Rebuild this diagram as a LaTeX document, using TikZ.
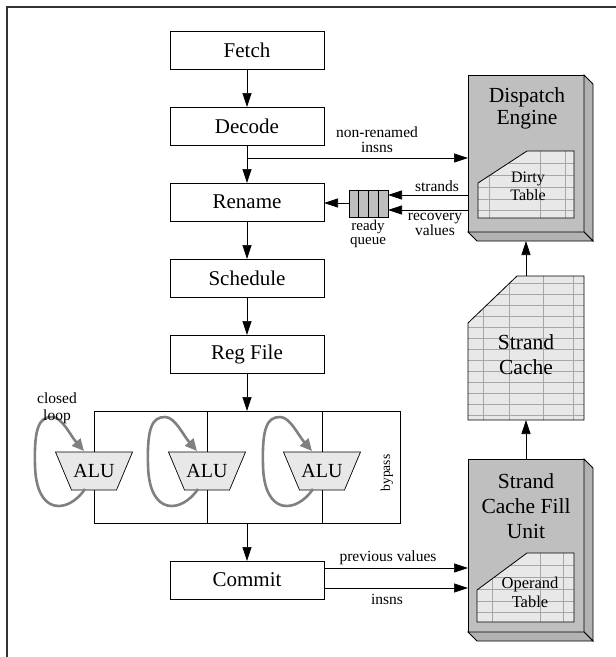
\documentclass[tikz,border=0pt]{standalone}
\usepackage{fontspec}
\setmainfont{Liberation Serif}
\usetikzlibrary{arrows.meta,calc}
\begin{document}
\begin{tikzpicture}[x=1pt,y=-1pt,
  stage/.style={draw,line width=0.8pt,minimum width=154pt,minimum height=38pt,inner sep=0pt,outer sep=0pt,font=\fontsize{21}{24}\selectfont},
  arr/.style={line width=0.7pt,-{Triangle[length=14pt,width=9pt]}},
  lbl/.style={font=\fontsize{15.5}{13}\selectfont,align=center,inner sep=0pt},
  ttl/.style={font=\fontsize{21.5}{25}\selectfont,align=center,inner sep=0pt},
  face/.style={draw,line width=0.8pt,fill=black!25,inner sep=0pt,outer sep=0pt},
  sideface/.style={draw,line width=0.8pt,fill=black!30},
  tbl/.style={draw,line width=0.8pt,fill=black!9},
  gridln/.style={draw=black!35,line width=0.8pt},
  loopline/.style={draw=black!50,line width=2.6pt,-{Triangle[length=12pt,width=11pt,fill=black!50]}},
  alushape/.style={draw,line width=0.7pt,fill=black!9},
]
\useasboundingbox (0,0) rectangle (616,657);
\draw[line width=1.3pt,black!80] (7,657) -- (7,7) -- (616,7);

% pipeline stages
\node[stage] (fetch) at (247,50) {Fetch};
\node[stage] (decode) at (247,126) {Decode};
\node[stage] (rename) at (247,202) {Rename};
\node[stage] (schedule) at (247,278) {Schedule};
\node[stage] (regfile) at (247,354) {Reg File};
\node[stage] (commit) at (247,580) {Commit};
\node[draw,line width=0.8pt,minimum width=306pt,minimum height=112pt,inner sep=0pt,outer sep=0pt] (exec) at (247,467) {};
\draw[line width=0.8pt] (207,411) -- (207,523);
\draw[line width=0.8pt] (322,411) -- (322,523);

\draw[arr] (fetch) -- (decode);
\draw[arr] (decode) -- (rename);
\draw[arr] (rename) -- (schedule);
\draw[arr] (schedule) -- (regfile);
\draw[arr] (regfile) -- (exec);
\draw[arr] (exec) -- (commit);

% ALUs with loops
\foreach \n/\cx in {1/94,2/207,3/322}{
  \draw[alushape] (\cx-38.5,452) -- (\cx+38.5,452) -- (\cx+22.5,490) -- (\cx-22.5,490) -- cycle;
  \node[font=\fontsize{20}{24}\selectfont,inner sep=0pt] (alu\n) at (\cx,471) {ALU};
  \begin{scope}[shift={(alu\n.center)}]
    \draw[loopline] (-9,18) .. controls (-25,42) and (-58,46) .. (-59,-6)
      .. controls (-60,-43) and (-55,-54) .. (-42,-54)
      .. controls (-32,-54) and (-24,-36) .. (-10,-20);
  \end{scope}
}
\node[lbl,font=\fontsize{15.5}{17}\selectfont] (closedloop) at (57,408) {closed\\loop};
\node[lbl,font=\fontsize{13.5}{15}\selectfont,rotate=90] (bypass) at (387,473) {bypass};

% Dispatch engine
\node[face,minimum width=116pt,minimum height=157pt] (dispatch) at (526,153.5) {};
\draw[sideface] (dispatch.north east) -- ++(9,9) -- ($(dispatch.south east)+(9,9)$) -- (dispatch.south east) -- cycle;
\draw[sideface] (dispatch.south west) -- ++(9,9) -- ($(dispatch.south east)+(9,9)$) -- (dispatch.south east) -- cycle;
\node[ttl,font=\fontsize{21.5}{22}\selectfont] (disptitle) at (527,108) {Dispatch\\Engine};
\fill[black!9] (478,183) -- (527,151) -- (574,151) -- (574,218) -- (478,218) -- cycle;
\begin{scope}
  \clip (478,183) -- (527,151) -- (574,151) -- (574,218) -- (478,218) -- cycle;
  \foreach \x in {489,540,565} \draw[gridln] (\x,140) -- (\x,230);
  \foreach \y in {163,175,187,199,210} \draw[gridln] (470,\y) -- (580,\y);
\end{scope}
\draw[line width=0.8pt] (478,183) -- (527,151) -- (574,151) -- (574,218) -- (478,218) -- cycle;
\node[lbl,font=\fontsize{16}{18}\selectfont] (dirty) at (528,186) {Dirty\\Table};

% ready queue
\node[draw,line width=0.8pt,fill=black!25,minimum width=39pt,minimum height=27pt,inner sep=0pt,outer sep=0pt] (queue) at (368.5,203.5) {};
\foreach \x in {358.75,368.5,378.25} \draw[line width=0.8pt] (\x,190) -- (\x,217);
\node[lbl,font=\fontsize{15}{14}\selectfont] (rq) at (368,234) {ready\\queue};

\coordinate (nr) at (247,158);
\draw[arr] (nr) -- (nr -| dispatch.west);
\node[lbl,font=\fontsize{15.5}{15}\selectfont] (nrl) at (377,140) {non-renamed\\insns};
\draw[arr] (dispatch.west |- 0,195) -- (queue.east |- 0,195);
\draw[arr] (dispatch.west |- 0,210) -- (queue.east |- 0,210);
\draw[arr] (queue.west |- 0,203) -- (rename.east |- 0,203);
\node[lbl] (strl) at (437,186) {strands};
\node[lbl,font=\fontsize{15.5}{12.5}\selectfont] (recl) at (435,224) {recovery\\values};

% strand cache
\fill[black!9] (468,323) -- (517,276) -- (584,276) -- (584,420) -- (468,420) -- cycle;
\begin{scope}
  \clip (468,323) -- (517,276) -- (584,276) -- (584,420) -- (468,420) -- cycle;
  \foreach \x in {483,509,543,573} \draw[gridln] (\x,270) -- (\x,425);
  \foreach \k in {0,...,12} \draw[gridln] (460,283+11*\k) -- (590,283+11*\k);
\end{scope}
\draw[line width=0.8pt] (468,323) -- (517,276) -- (584,276) -- (584,420) -- (468,420) -- cycle;
\node[ttl] (sctitle) at (526,355) {Strand\\Cache};
\coordinate (sctop) at (526,276);
\coordinate (scbot) at (526,420);

% fill unit
\node[face,minimum width=116pt,minimum height=173pt] (fill) at (526,545.5) {};
\draw[sideface] (fill.north east) -- ++(9,9) -- ($(fill.south east)+(9,9)$) -- (fill.south east) -- cycle;
\draw[sideface] (fill.south west) -- ++(9,9) -- ($(fill.south east)+(9,9)$) -- (fill.south east) -- cycle;
\node[ttl] (filltitle) at (526,506) {Strand\\Cache Fill\\Unit};
\fill[black!9] (477,590) -- (527,553) -- (574,553) -- (574,622) -- (477,622) -- cycle;
\begin{scope}
  \clip (477,590) -- (527,553) -- (574,553) -- (574,622) -- (477,622) -- cycle;
  \foreach \x in {492,540,563} \draw[gridln] (\x,545) -- (\x,630);
  \foreach \y in {565,577,589,601,612} \draw[gridln] (470,\y) -- (580,\y);
\end{scope}
\draw[line width=0.8pt] (477,590) -- (527,553) -- (574,553) -- (574,622) -- (477,622) -- cycle;
\node[lbl,font=\fontsize{16.5}{19}\selectfont] (optbl) at (530,592) {Operand\\Table};

\coordinate (dispbot) at ($(dispatch.south)+(0,9)$);
\draw[arr] (sctop) -- (dispbot);
\draw[arr] (fill.north) -- (scbot);

\draw[arr] (commit.east |- 0,568) -- (fill.west |- 0,568);
\draw[arr] (commit.east |- 0,588) -- (fill.west |- 0,588);
\node[lbl] (prevl) at (388,558) {previous values};
\node[lbl] (insl) at (387,599) {insns};
\end{tikzpicture}
\end{document}
